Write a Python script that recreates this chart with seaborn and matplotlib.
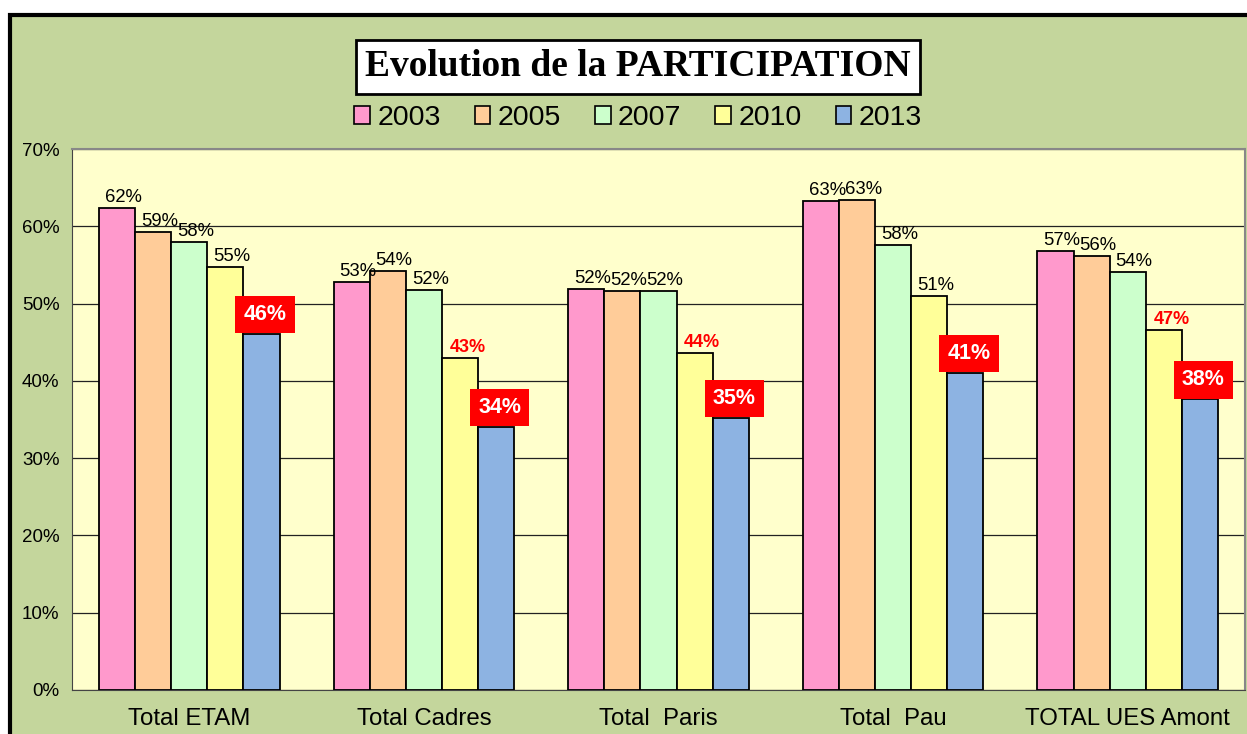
import numpy as np
import pandas as pd
import matplotlib
matplotlib.use("Agg")
import matplotlib.pyplot as plt
from matplotlib.patches import Rectangle, Patch
from matplotlib.ticker import FixedLocator, PercentFormatter
import seaborn as sns

# data (percent)
categories = ["Total ETAM", "Total Cadres", "Total  Paris", "Total  Pau", "TOTAL UES Amont"]
years = ["2003", "2005", "2007", "2010", "2013"]
v2003 = [62.4, 52.8, 51.9, 63.3, 56.8]
v2005 = [59.2, 54.2, 51.6, 63.4, 56.1]
v2007 = [58.0, 51.7, 51.6, 57.6, 54.1]
v2010 = [54.7, 42.9, 43.6, 51.0, 46.6]
v2013 = [46.1, 34.0, 35.2, 41.0, 37.6]
# 2010 labels highlighted in red for these categories
red_2010 = ["Total Cadres", "Total  Paris", "TOTAL UES Amont"]

colors = ["#FF99CC", "#FFCC99", "#CCFFCC", "#FFFF99", "#8DB3E2"]
green_bg = "#C4D69C"
plot_bg = "#FFFFCC"

sns.set_style("white")
plt.rcParams["font.family"] = ["Liberation Sans", "DejaVu Sans"]
plt.rcParams["text.color"] = "black"
plt.rcParams["xtick.color"] = "black"
plt.rcParams["ytick.color"] = "black"

rows = []
for yr, vals in zip(years, [v2003, v2005, v2007, v2010, v2013]):
    for cat, v in zip(categories, vals):
        rows.append({"cat": cat, "year": yr, "value": v})
df = pd.DataFrame(rows)

W, H = 1247, 734
fig = plt.figure(figsize=(W / 100, H / 100), dpi=100)
fig.patch.set_facecolor("white")

# green chart area with black left/top border
fig.patches.append(Rectangle((10 / W, -0.1), 1.1, 1.1 - 15 / H, transform=fig.transFigure,
                             facecolor=green_bg, edgecolor="black", linewidth=3, zorder=-5))

ax = fig.add_axes([72 / W, 1 - 690 / H, (1245 - 72) / W, (690 - 149) / H])
ax.set_facecolor(plot_bg)

sns.barplot(data=df, x="cat", y="value", hue="year", order=categories, hue_order=years,
            palette=colors, width=0.77, edgecolor="black", linewidth=1.3,
            saturation=1, errorbar=None, legend=False, ax=ax, zorder=3)

ax.set_ylim(0, 70)
ax.set_xlim(-0.5, len(categories) - 0.5)
ax.yaxis.set_major_locator(FixedLocator(np.arange(0, 71, 10)))
ax.yaxis.set_major_formatter(PercentFormatter(decimals=0))
ax.grid(axis="y", color="#222222", linewidth=0.9, zorder=0)
ax.set_axisbelow(True)
ax.set_xlabel("")
ax.set_ylabel("")

ax.tick_params(axis="y", which="major", length=5, width=1, color="#555555",
               labelsize=13.5, pad=4)
ax.tick_params(axis="x", which="major", length=0, labelsize=17.3, pad=13)
ax.xaxis.set_minor_locator(FixedLocator(np.arange(-0.5, len(categories), 1.0)))
ax.tick_params(axis="x", which="minor", length=6, width=1, color="#555555")

for side in ["top", "right"]:
    ax.spines[side].set_color("#888888")
    ax.spines[side].set_linewidth(1.5)
ax.spines["left"].set_color("#444444")
ax.spines["bottom"].set_color("#444444")

# value labels
for yr, cont in zip(years, ax.containers):
    for cat, bar in zip(categories, cont):
        h = bar.get_height()
        xc = bar.get_x() + bar.get_width() / 2
        txt = f"{round(h):d}%"
        if yr == "2013":
            ax.annotate(txt, (xc, h), xytext=(2.5, 6.5), textcoords="offset points",
                        ha="center", va="bottom", fontsize=15.5, fontweight="bold", color="white",
                        bbox=dict(boxstyle="square,pad=0.38", facecolor="#FF0000", edgecolor="none"),
                        zorder=5)
        elif yr == "2010" and cat in red_2010:
            ax.annotate(txt, (xc, h), xytext=(5.5, 1.5), textcoords="offset points",
                        ha="center", va="bottom", fontsize=13, fontweight="bold",
                        color="#FF0000", zorder=5)
        else:
            ax.annotate(txt, (xc, h), xytext=(4.5, 1.5), textcoords="offset points",
                        ha="center", va="bottom", fontsize=13.3, color="black", zorder=5)

# title in a white box
fig.text(638 / W, 1 - 67 / H, "Evolution de la PARTICIPATION", ha="center", va="center",
         fontsize=27, fontweight="bold", family=["Liberation Serif", "DejaVu Serif"],
         bbox=dict(boxstyle="square,pad=0.25", facecolor="white", edgecolor="black", linewidth=2))

handles = [Patch(facecolor=c, edgecolor="black", linewidth=1.2) for c in colors]
fig.legend(handles, years, loc="center", bbox_to_anchor=(638 / W, 1 - 118 / H), ncol=5,
           frameon=False, fontsize=20.5, handlelength=0.55, handleheight=0.55,
           handletextpad=0.25, columnspacing=1.2)

fig.savefig("out.png", dpi=100, facecolor=fig.get_facecolor())
